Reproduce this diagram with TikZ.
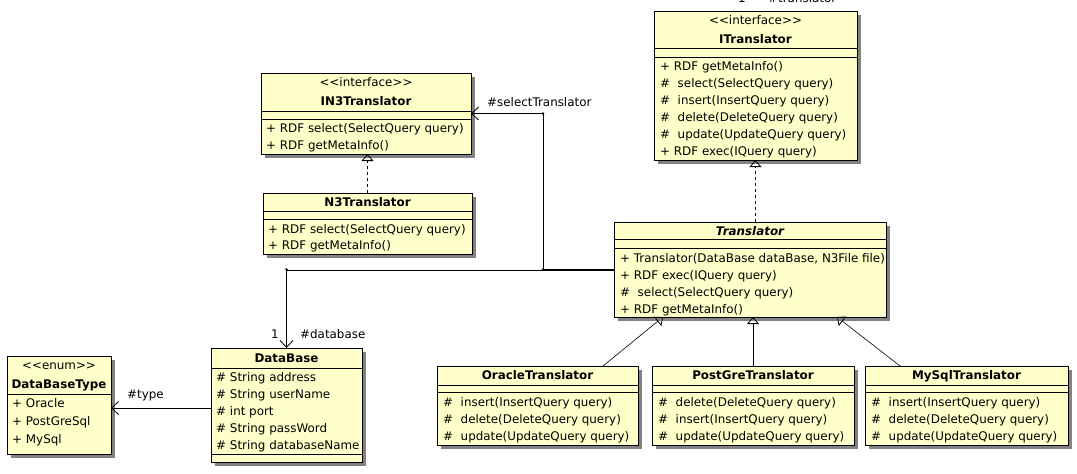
\documentclass[tikz,border=0pt]{standalone}
\usepackage{fontspec}
\setmainfont{DejaVu Sans}
\usetikzlibrary{arrows.meta,shadows}
\definecolor{boxfill}{RGB}{255,255,202}
\definecolor{shadowgray}{RGB}{130,130,130}
\newcommand{\umlsize}{\fontsize{11.9}{13.5}\selectfont}
\tikzset{
  classbox/.style={draw, line width=0.9pt, fill=boxfill, anchor=north west, inner sep=0pt, outer sep=0pt,
    drop shadow={shadow xshift=4pt, shadow yshift=-4pt, fill=shadowgray, opacity=1}},
  txt/.style={font=\umlsize, inner sep=0pt, text height=9pt, text depth=1pt, anchor=west},
  ctxt/.style={txt, anchor=center},
  btxt/.style={ctxt, font=\umlsize\bfseries},
  sepline/.style={line width=0.9pt},
  realize/.style={line width=0.8pt, dash pattern=on 3pt off 3pt, -{Triangle[open, width=12pt, length=7pt, line width=0.8pt]}},
  gen/.style={line width=0.6pt, -{Triangle[open, width=12pt, length=7pt, line width=0.8pt]}},
  genv/.style={gen, line width=0.9pt},
  assoc/.style={line width=0.9pt, -{Straight Barb[length=7pt, width=13pt, line width=0.8pt]}},
  dot/.style={circle, fill=black, inner sep=0pt, minimum size=2.6pt}
}
\begin{document}
\begin{tikzpicture}[x=1pt,y=-1pt]
\useasboundingbox (0,0) rectangle (1077,474);
\fill[white] (0,0) rectangle (1077,474);

% labels cut by the top edge, as in the reference
\node[font=\umlsize, inner sep=0pt, anchor=base] (toplbl1) at (742,2) {1};
\node[font=\umlsize, inner sep=0pt, anchor=base west] (toplbl2) at (768,2) {\#translator};

% ---------- ITranslator ----------
\node[classbox, minimum width=203pt, minimum height=149pt] (itr) at (654,11) {};
\draw[sepline] (654,48) -- (857,48);
\draw[sepline] (654,57) -- (857,57);
\node[ctxt] (itrs) at (755.5,20) {<{}<interface>{}>};
\node[btxt] (itrn) at (755.5,39) {ITranslator};
\node[txt] (itr1) at (660,66) {+ RDF getMetaInfo()};
\node[txt] (itr2) at (660,83) {\#\ \ select(SelectQuery query)};
\node[txt] (itr3) at (660,100) {\#\ \ insert(InsertQuery query)};
\node[txt] (itr4) at (660,117) {\#\ \ delete(DeleteQuery query)};
\node[txt] (itr5) at (660,134) {\#\ \ update(UpdateQuery query)};
\node[txt] (itr6) at (660,151) {+ RDF exec(IQuery query)};

% ---------- IN3Translator ----------
\node[classbox, minimum width=210pt, minimum height=81pt] (in3) at (261,73) {};
\draw[sepline] (261,111) -- (471,111);
\draw[sepline] (261,119) -- (471,119);
\node[ctxt] (in3s) at (366,82) {<{}<interface>{}>};
\node[btxt] (in3n) at (366,101) {IN3Translator};
\node[txt] (in31) at (266,128) {+ RDF select(SelectQuery query)};
\node[txt] (in32) at (266,145) {+ RDF getMetaInfo()};

% ---------- N3Translator ----------
\node[classbox, minimum width=209pt, minimum height=61pt] (n3) at (263,193) {};
\draw[sepline] (263,211) -- (472,211);
\draw[sepline] (263,219) -- (472,219);
\node[btxt] (n3n) at (367.5,202) {N3Translator};
\node[txt] (n31) at (268,229) {+ RDF select(SelectQuery query)};
\node[txt] (n32) at (268,245) {+ RDF getMetaInfo()};

% ---------- Translator ----------
\node[classbox, minimum width=272pt, minimum height=95pt] (trans) at (614,222) {};
\draw[sepline] (614,239) -- (886,239);
\draw[sepline] (614,248) -- (886,248);
\node[ctxt, font=\umlsize\bfseries\itshape] (transn) at (750,231) {Translator};
\node[txt] (trans1) at (620,258) {+ Translator(DataBase dataBase, N3File file)};
\node[txt] (trans2) at (620,275) {+ RDF exec(IQuery query)};
\node[txt] (trans3) at (620,292) {\#\ \ select(SelectQuery query)};
\node[txt] (trans4) at (620,309) {+ RDF getMetaInfo()};

% ---------- DataBaseType ----------
\node[classbox, minimum width=104pt, minimum height=98pt] (dbt) at (7,356) {};
\draw[sepline] (7,394) -- (111,394);
\node[ctxt] (dbts) at (59,365) {<{}<enum>{}>};
\node[btxt] (dbtn) at (59,384) {DataBaseType};
\node[txt] (dbt1) at (12,403) {+ Oracle};
\node[txt] (dbt2) at (12,421) {+ PostGreSql};
\node[txt] (dbt3) at (12,439) {+ MySql};

% ---------- DataBase ----------
\node[classbox, minimum width=151pt, minimum height=114pt] (db) at (211,348) {};
\draw[sepline] (211,368) -- (362,368);
\draw[sepline] (211,454) -- (362,454);
\node[btxt] (dbn) at (286.5,358) {DataBase};
\node[txt] (db1) at (216,377) {\# String address};
\node[txt] (db2) at (216,394) {\# String userName};
\node[txt] (db3) at (216,411) {\# int port};
\node[txt] (db4) at (216,428) {\# String passWord};
\node[txt] (db5) at (216,445) {\# String databaseName};

% ---------- OracleTranslator ----------
\node[classbox, minimum width=201pt, minimum height=79pt] (ora) at (437,366) {};
\draw[sepline] (437,385) -- (638,385);
\draw[sepline] (437,392) -- (638,392);
\node[btxt] (oran) at (537.5,375) {OracleTranslator};
\node[txt] (ora1) at (443,402) {\#\ \ insert(InsertQuery query)};
\node[txt] (ora2) at (443,419) {\#\ \ delete(DeleteQuery query)};
\node[txt] (ora3) at (443,436) {\#\ \ update(UpdateQuery query)};

% ---------- PostGreTranslator ----------
\node[classbox, minimum width=202pt, minimum height=79pt] (pg) at (652,366) {};
\draw[sepline] (652,385) -- (854,385);
\draw[sepline] (652,392) -- (854,392);
\node[btxt] (pgn) at (753,375) {PostGreTranslator};
\node[txt] (pg1) at (658,402) {\#\ \ delete(DeleteQuery query)};
\node[txt] (pg2) at (658,419) {\#\ \ insert(InsertQuery query)};
\node[txt] (pg3) at (658,436) {\#\ \ update(UpdateQuery query)};

% ---------- MySqlTranslator ----------
\node[classbox, minimum width=203pt, minimum height=79pt] (my) at (865,366) {};
\draw[sepline] (865,385) -- (1068,385);
\draw[sepline] (865,392) -- (1068,392);
\node[btxt] (myn) at (966.5,375) {MySqlTranslator};
\node[txt] (my1) at (871,402) {\#\ \ insert(InsertQuery query)};
\node[txt] (my2) at (871,419) {\#\ \ delete(DeleteQuery query)};
\node[txt] (my3) at (871,436) {\#\ \ update(UpdateQuery query)};

% ---------- connectors ----------
\draw[realize] (n3.north) -- (n3.north |- in3.south);
\draw[realize] (trans.north -| itr.south) -- (itr.south);

\coordinate (jn) at (543,269.5);
\draw[assoc] (trans.west) -- (jn) |- (in3.east);
\draw[assoc] ([yshift=-1pt]trans.west) -| (db.north);
\node[dot] (d1) at (jn) {};
\node[dot] (d2) at (in3.east -| jn) {};
\node[dot] (d3) at (trans.west -| db.north) {};
\draw[assoc] ([yshift=-3pt]db.west) -- ([yshift=-3pt]dbt.east);

\draw[gen] ([xshift=166pt]ora.north west) -- ([xshift=49pt]trans.south west);
\draw[genv] (pg.north) -- (trans.south -| pg.north);
\draw[gen] ([xshift=35pt]my.north west) -- ([xshift=-49pt]trans.south east);

% ---------- labels ----------
\node[txt] (lsel) at (487,102) {\#selectTranslator};
\node[ctxt] (lone) at (275,334) {1};
\node[txt] (ldb) at (300,334) {\#database};
\node[txt] (ltype) at (127,394) {\#type};
\end{tikzpicture}
\end{document}
